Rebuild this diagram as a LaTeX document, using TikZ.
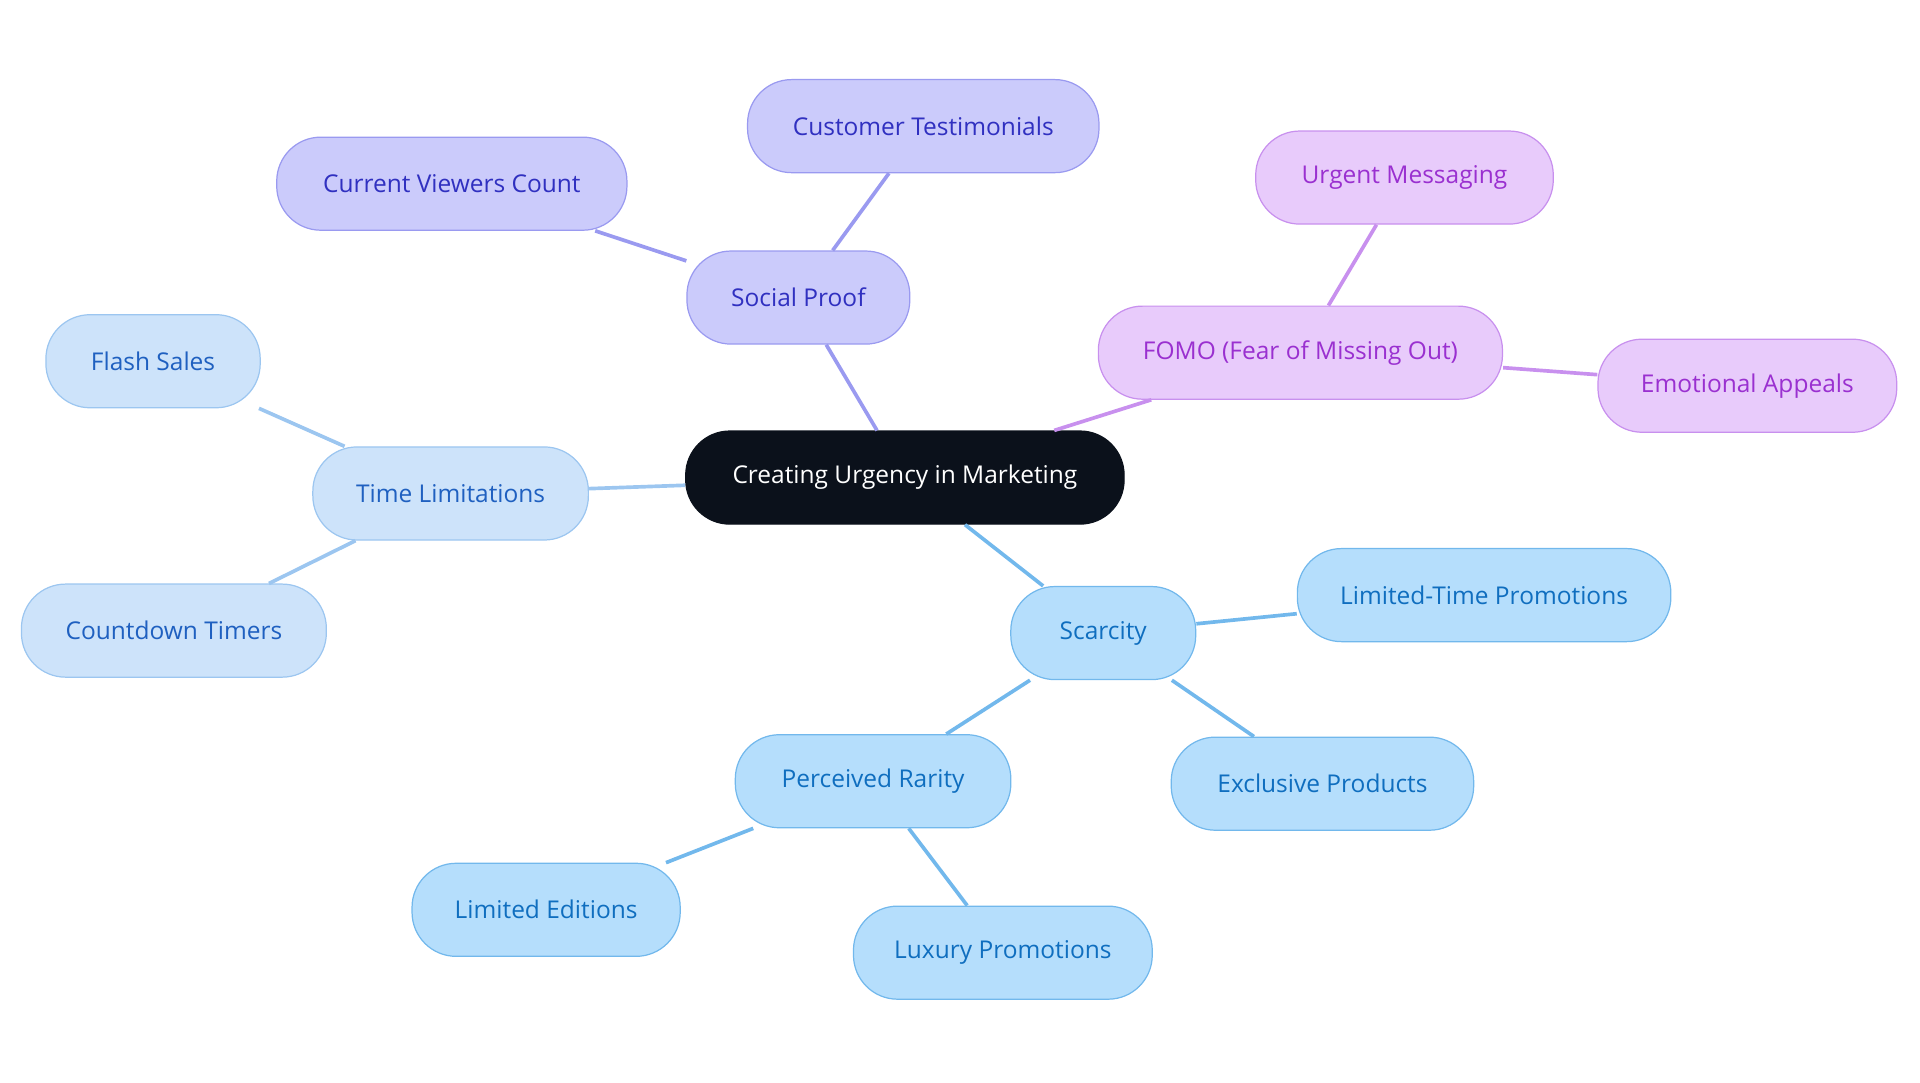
\documentclass[tikz,border=0pt]{standalone}
\usepackage{fontspec}
\setmainfont{Open Sans}
\begin{document}
\begin{tikzpicture}[x=1pt,y=-1pt,
 base/.style={rounded corners=36pt,minimum height=76pt,line width=1pt,inner sep=0pt,font=\fontsize{20}{24}\selectfont},
 root/.style={base,fill=rootc,draw=rootc,text=white},
 sp/.style={base,fill=spf,draw=sps,text=spt},
 fo/.style={base,fill=fof,draw=fos,text=fot},
 tl/.style={base,fill=tlf,draw=tls,text=tlt},
 sc/.style={base,fill=scf,draw=scs,text=sct},
 e/.style={line width=3pt}]
\definecolor{rootc}{HTML}{0B111B}
\definecolor{spf}{HTML}{CBCBFB}\definecolor{sps}{HTML}{9A9AF0}\definecolor{spt}{HTML}{3030C0}
\definecolor{fof}{HTML}{E8CBFB}\definecolor{fos}{HTML}{C890EE}\definecolor{fot}{HTML}{9A30D0}
\definecolor{tlf}{HTML}{CDE3FA}\definecolor{tls}{HTML}{9CC6F0}\definecolor{tlt}{HTML}{1F60C0}
\definecolor{scf}{HTML}{B5DEFC}\definecolor{scs}{HTML}{72B8EC}\definecolor{sct}{HTML}{0F6EBF}
\useasboundingbox (0,0) rectangle (1568,884);
\node[root,minimum width=358pt] (r) at (739,390) {Creating Urgency in Marketing};
\node[sp,minimum width=182pt] (sp) at (652,243) {Social Proof};
\node[sp,minimum width=287pt] (ct) at (754,103) {Customer Testimonials};
\node[sp,minimum width=286pt] (cv) at (369,150) {Current Viewers Count};
\node[fo,minimum width=330pt] (fo) at (1062,288) {FOMO (Fear of Missing Out)};
\node[fo,minimum width=243pt] (um) at (1147,145) {Urgent Messaging};
\node[fo,minimum width=244pt] (ea) at (1427,315) {Emotional Appeals};
\node[tl,minimum width=225pt] (tl) at (368,403) {Time Limitations};
\node[tl,minimum width=175pt] (fs) at (125,295) {Flash Sales};
\node[tl,minimum width=249pt] (cd) at (142,515) {Countdown Timers};
\node[sc,minimum width=151pt] (sc) at (901,517) {Scarcity};
\node[sc,minimum width=305pt] (lt) at (1212,486) {Limited-Time Promotions};
\node[sc,minimum width=247pt] (ep) at (1080,640) {Exclusive Products};
\node[sc,minimum width=225pt] (pr) at (713,638) {Perceived Rarity};
\node[sc,minimum width=219pt] (le) at (446,743) {Limited Editions};
\node[sc,minimum width=244pt] (lp) at (819,778) {Luxury Promotions};
\begin{scope}[on background layer/.try]
\end{scope}
\begin{pgfonlayer}{main}\end{pgfonlayer}
\draw[e,sps] (r) -- (sp); \draw[e,sps] (sp) -- (ct); \draw[e,sps] (sp) -- (cv);
\draw[e,fos] (r) -- (fo); \draw[e,fos] (fo) -- (um); \draw[e,fos] (fo) -- (ea);
\draw[e,tls] (r) -- (tl); \draw[e,tls] (tl) -- (fs); \draw[e,tls] (tl) -- (cd);
\draw[e,scs] (r) -- (sc); \draw[e,scs] (sc) -- (lt); \draw[e,scs] (sc) -- (ep); \draw[e,scs] (sc) -- (pr);
\draw[e,scs] (pr) -- (le); \draw[e,scs] (pr) -- (lp);
\end{tikzpicture}
\end{document}
